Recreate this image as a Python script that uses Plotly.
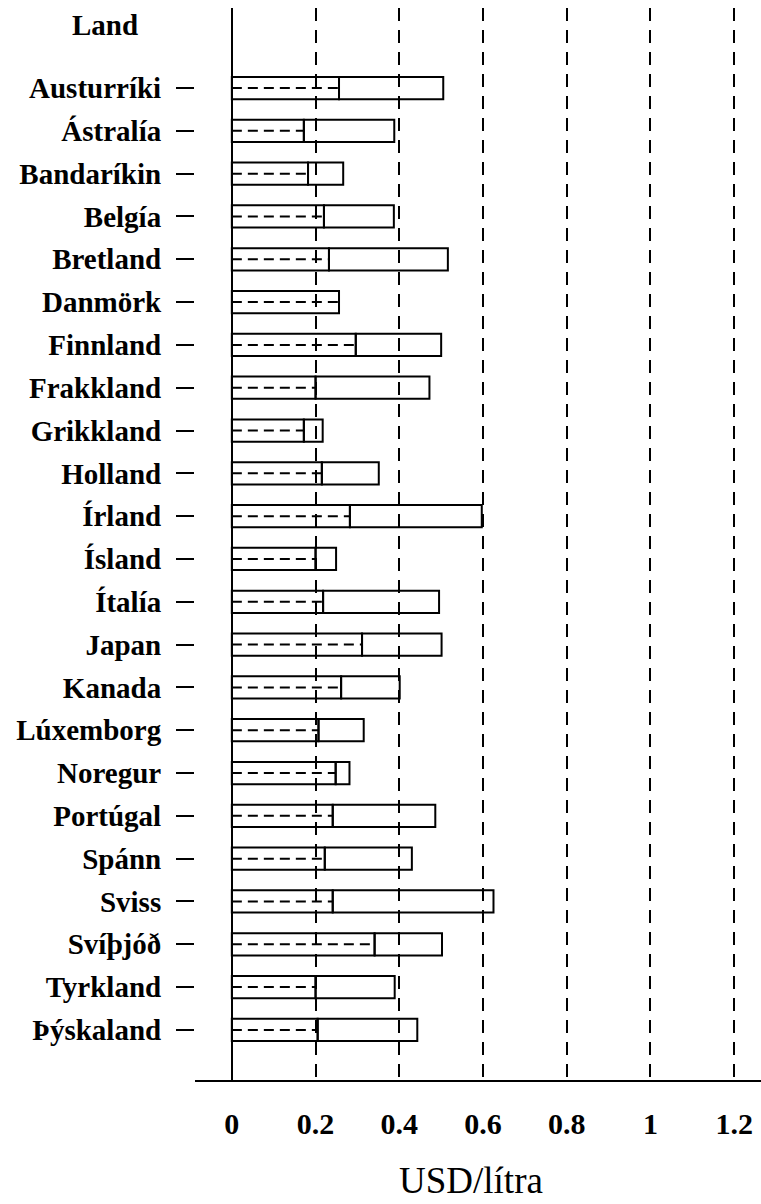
import plotly.graph_objects as go

countries = ["Austurríki", "Ástralía", "Bandaríkin", "Belgía", "Bretland", "Danmörk",
             "Finnland", "Frakkland", "Grikkland", "Holland", "Írland", "Ísland", "Ítalía",
             "Japan", "Kanada", "Lúxemborg", "Noregur", "Portúgal", "Spánn", "Sviss",
             "Svíþjóð", "Tyrkland", "Þýskaland"]
# first (dashed) segment end and total bar length, USD/lítra
first_part = [0.256, 0.172, 0.182, 0.220, 0.232, 0.256, 0.296, 0.200, 0.172, 0.215,
              0.282, 0.200, 0.218, 0.311, 0.261, 0.207, 0.248, 0.241, 0.222, 0.241,
              0.341, 0.200, 0.205]
total = [0.505, 0.388, 0.266, 0.387, 0.516, 0.256, 0.500, 0.472, 0.217, 0.351,
         0.597, 0.249, 0.495, 0.501, 0.401, 0.315, 0.281, 0.486, 0.430, 0.625,
         0.502, 0.389, 0.443]
x_ticks = [0, 0.2, 0.4, 0.6, 0.8, 1.0, 1.2]
x_tick_labels = ["0", "0.2", "0.4", "0.6", "0.8", "1", "1.2"]

idx = list(range(len(countries)))
second_part = [t - f for t, f in zip(total, first_part)]

fig = go.Figure()
fig.add_trace(go.Bar(y=idx, x=first_part, orientation="h", width=0.52,
                     marker=dict(color="rgba(0,0,0,0)", line=dict(color="black", width=2)),
                     showlegend=False, hoverinfo="skip"))
fig.add_trace(go.Bar(y=idx, x=second_part, base=first_part, orientation="h", width=0.52,
                     marker=dict(color="rgba(0,0,0,0)", line=dict(color="black", width=2)),
                     showlegend=False, hoverinfo="skip"))

dx, dy = [], []
for i, f in zip(idx, first_part):
    dx += [0, f, None]
    dy += [i, i, None]
fig.add_trace(go.Scatter(x=dx, y=dy, mode="lines",
                         line=dict(color="black", width=2, dash="10px,6px"),
                         showlegend=False, hoverinfo="skip"))

font_family = "Liberation Serif"
fig.update_layout(
    width=761, height=1204,
    margin=dict(l=195, r=0, t=8, b=124, autoexpand=False),
    paper_bgcolor="white", plot_bgcolor="white",
    barmode="overlay",
    font=dict(family=font_family, color="black"),
    xaxis=dict(range=[-0.088, 1.264], tickvals=x_ticks, ticktext=x_tick_labels,
               showgrid=True, gridcolor="black", gridwidth=2, griddash="13px,9px",
               zeroline=True, zerolinecolor="black", zerolinewidth=2,
               showline=True, linecolor="black", linewidth=2,
               ticks="", ticklabelstandoff=16, automargin=False,
               tickfont=dict(family=font_family, size=30, color="black", weight="bold")),
    yaxis=dict(range=[23.17, -1.87], tickvals=idx, ticktext=countries,
               showgrid=False, zeroline=False, showline=False,
               ticks="outside", ticklen=18, tickwidth=2, tickcolor="black",
               ticklabelstandoff=9, automargin=False,
               tickfont=dict(family=font_family, size=29, color="black", weight="bold")),
)

fig.add_annotation(text="Land", xref="paper", yref="paper", x=-0.159, y=0.984,
                   showarrow=False, xanchor="center", yanchor="middle",
                   font=dict(family=font_family, size=29, color="black", weight="bold"))
fig.add_annotation(text="USD/lítra", xref="paper", yref="paper", x=0.487, y=-0.0933,
                   showarrow=False, xanchor="center", yanchor="middle",
                   font=dict(family=font_family, size=37, color="black"))

fig.write_html("out.html", config={"displayModeBar": False},
               post_script="document.body.style.margin='0';")
